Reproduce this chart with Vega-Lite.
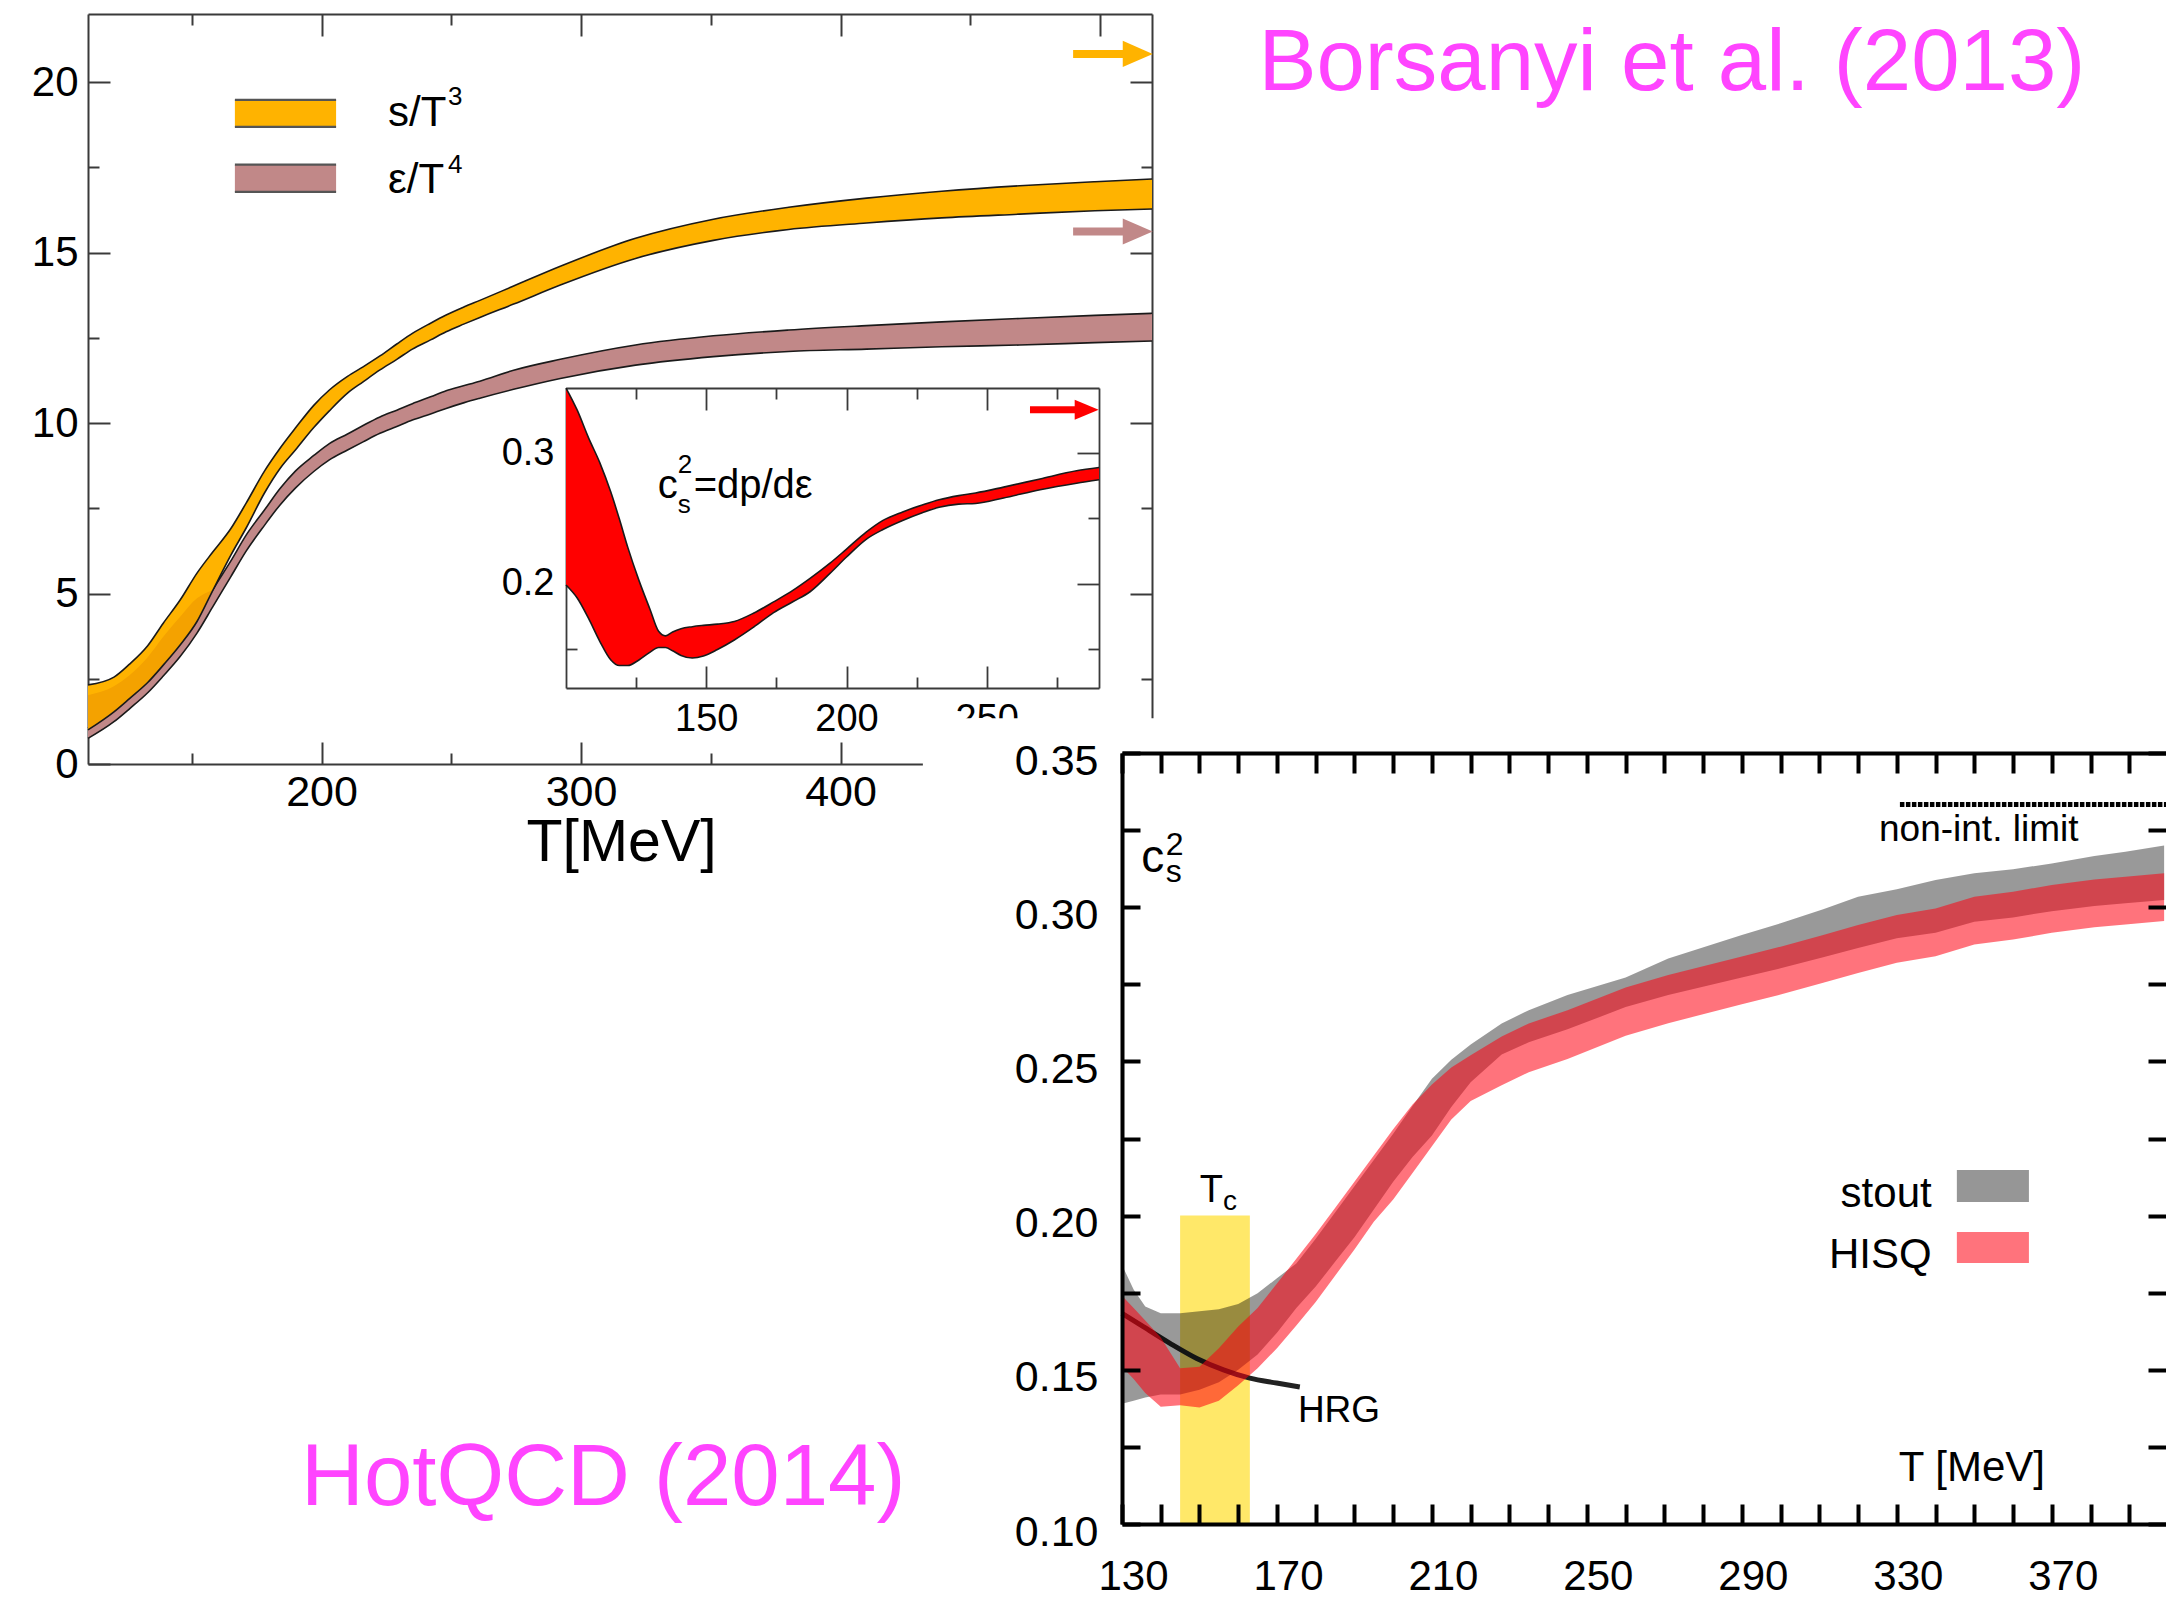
{
"$schema":"https://vega.github.io/schema/vega-lite/v6.json",
"width":2166,"height":1597,"autosize":{"type":"none"},"padding":0,"background":"#ffffff",
"config":{"view":{"stroke":null},"font":"Liberation Sans"},
"datasets":{
"thermo":[
{"T":110,"sTop":2.32,"sBot":1.0,"eTop":1.05,"eBot":0.75},
{"T":120,"sTop":2.55,"sBot":1.53,"eTop":1.6,"eBot":1.24},
{"T":126,"sTop":2.93,"sBot":1.92,"eTop":2.0,"eBot":1.62},
{"T":133,"sTop":3.47,"sBot":2.39,"eTop":2.45,"eBot":2.09},
{"T":139,"sTop":4.13,"sBot":2.9,"eTop":3.0,"eBot":2.58},
{"T":145.5,"sTop":4.81,"sBot":3.49,"eTop":3.6,"eBot":3.15},
{"T":152,"sTop":5.6,"sBot":4.18,"eTop":4.3,"eBot":3.84},
{"T":158,"sTop":6.21,"sBot":5.08,"eTop":5.1,"eBot":4.6},
{"T":165,"sTop":6.9,"sBot":6.12,"eTop":5.95,"eBot":5.49},
{"T":171,"sTop":7.66,"sBot":6.93,"eTop":6.72,"eBot":6.25},
{"T":178,"sTop":8.59,"sBot":7.95,"eTop":7.45,"eBot":7.0},
{"T":184,"sTop":9.26,"sBot":8.67,"eTop":8.08,"eBot":7.6},
{"T":190,"sTop":9.86,"sBot":9.22,"eTop":8.6,"eBot":8.1},
{"T":197,"sTop":10.52,"sBot":9.87,"eTop":9.05,"eBot":8.58},
{"T":203,"sTop":10.97,"sBot":10.36,"eTop":9.4,"eBot":8.92},
{"T":210,"sTop":11.37,"sBot":10.88,"eTop":9.68,"eBot":9.21},
{"T":216,"sTop":11.65,"sBot":11.21,"eTop":9.93,"eBot":9.45},
{"T":222.5,"sTop":11.97,"sBot":11.56,"eTop":10.18,"eBot":9.7},
{"T":229,"sTop":12.32,"sBot":11.87,"eTop":10.38,"eBot":9.9},
{"T":235,"sTop":12.63,"sBot":12.17,"eTop":10.57,"eBot":10.09},
{"T":242,"sTop":12.93,"sBot":12.44,"eTop":10.77,"eBot":10.27},
{"T":248,"sTop":13.17,"sBot":12.68,"eTop":10.95,"eBot":10.43},
{"T":255,"sTop":13.41,"sBot":12.91,"eTop":11.1,"eBot":10.6},
{"T":261,"sTop":13.6,"sBot":13.1,"eTop":11.23,"eBot":10.73},
{"T":274,"sTop":14.02,"sBot":13.49,"eTop":11.55,"eBot":10.99},
{"T":292,"sTop":14.6,"sBot":14.05,"eTop":11.87,"eBot":11.31},
{"T":321,"sTop":15.42,"sBot":14.83,"eTop":12.29,"eBot":11.7},
{"T":351,"sTop":15.98,"sBot":15.36,"eTop":12.56,"eBot":11.95},
{"T":380,"sTop":16.33,"sBot":15.68,"eTop":12.73,"eBot":12.1},
{"T":410,"sTop":16.6,"sBot":15.87,"eTop":12.86,"eBot":12.17},
{"T":439,"sTop":16.8,"sBot":16.02,"eTop":12.97,"eBot":12.24},
{"T":469,"sTop":16.96,"sBot":16.13,"eTop":13.07,"eBot":12.29},
{"T":498,"sTop":17.08,"sBot":16.23,"eTop":13.16,"eBot":12.36},
{"T":520,"sTop":17.16,"sBot":16.28,"eTop":13.22,"eBot":12.41}
],
"thermoDark":[
{"T":110,"dTop":2.02,"sBot":1.0},
{"T":120,"dTop":2.28,"sBot":1.53},
{"T":126,"dTop":2.6,"sBot":1.92},
{"T":133,"dTop":3.13,"sBot":2.39},
{"T":139,"dTop":3.73,"sBot":2.9},
{"T":145.5,"dTop":4.32,"sBot":3.49},
{"T":152,"dTop":4.86,"sBot":4.18},
{"T":158,"dTop":5.1,"sBot":5.08}
],
"cs2":[
{"T":100,"hi":0.35,"lo":0.199},
{"T":104,"hi":0.333,"lo":0.189},
{"T":108,"hi":0.312,"lo":0.1735},
{"T":112,"hi":0.293,"lo":0.156},
{"T":116,"hi":0.27,"lo":0.1415},
{"T":119,"hi":0.2497,"lo":0.1372},
{"T":122,"hi":0.228,"lo":0.1372},
{"T":126,"hi":0.2025,"lo":0.1415},
{"T":130,"hi":0.18,"lo":0.1475},
{"T":133,"hi":0.1635,"lo":0.151},
{"T":135.5,"hi":0.16,"lo":0.151},
{"T":138,"hi":0.163,"lo":0.1485},
{"T":141,"hi":0.1655,"lo":0.145},
{"T":145,"hi":0.167,"lo":0.143},
{"T":149,"hi":0.168,"lo":0.1445},
{"T":154,"hi":0.169,"lo":0.1495},
{"T":160,"hi":0.171,"lo":0.1568},
{"T":167,"hi":0.1775,"lo":0.1668},
{"T":174,"hi":0.186,"lo":0.1778},
{"T":181,"hi":0.195,"lo":0.1863},
{"T":187,"hi":0.204,"lo":0.1938},
{"T":194,"hi":0.2155,"lo":0.2077},
{"T":200,"hi":0.2265,"lo":0.2204},
{"T":207,"hi":0.2395,"lo":0.234},
{"T":213,"hi":0.2485,"lo":0.2415},
{"T":220,"hi":0.255,"lo":0.2484},
{"T":227,"hi":0.2603,"lo":0.2543},
{"T":233,"hi":0.2643,"lo":0.2586},
{"T":240,"hi":0.2675,"lo":0.261},
{"T":246,"hi":0.2695,"lo":0.2615},
{"T":256,"hi":0.274,"lo":0.2657},
{"T":269,"hi":0.2803,"lo":0.272},
{"T":282,"hi":0.2865,"lo":0.277},
{"T":290,"hi":0.289,"lo":0.2796}
],
"hotqcd":[
{"T":130,"gt":0.184,"gb":0.139,"rt":0.174,"rb":0.151},
{"T":133,"gt":0.176,"gb":0.14,"rt":0.17,"rb":0.147},
{"T":136,"gt":0.1705,"gb":0.141,"rt":0.166,"rb":0.1425},
{"T":140,"gt":0.1683,"gb":0.142,"rt":0.1605,"rb":0.138},
{"T":145,"gt":0.1683,"gb":0.142,"rt":0.1505,"rb":0.1385},
{"T":150,"gt":0.169,"gb":0.1435,"rt":0.151,"rb":0.1378},
{"T":155,"gt":0.1696,"gb":0.146,"rt":0.157,"rb":0.14},
{"T":160,"gt":0.1713,"gb":0.15,"rt":0.164,"rb":0.145},
{"T":165,"gt":0.1748,"gb":0.155,"rt":0.17,"rb":0.1505},
{"T":170,"gt":0.1797,"gb":0.162,"rt":0.178,"rb":0.157},
{"T":175,"gt":0.1845,"gb":0.17,"rt":0.186,"rb":0.1644},
{"T":180,"gt":0.1925,"gb":0.177,"rt":0.194,"rb":0.172},
{"T":185,"gt":0.201,"gb":0.185,"rt":0.2025,"rb":0.1805},
{"T":190,"gt":0.2095,"gb":0.193,"rt":0.211,"rb":0.189},
{"T":195,"gt":0.218,"gb":0.202,"rt":0.2195,"rb":0.198},
{"T":200,"gt":0.2265,"gb":0.211,"rt":0.228,"rb":0.2052},
{"T":205,"gt":0.2355,"gb":0.219,"rt":0.236,"rb":0.2138},
{"T":210,"gt":0.2444,"gb":0.226,"rt":0.2425,"rb":0.2225},
{"T":215,"gt":0.2505,"gb":0.2352,"rt":0.248,"rb":0.2312},
{"T":220,"gt":0.2555,"gb":0.2432,"rt":0.252,"rb":0.2372},
{"T":228,"gt":0.2623,"gb":0.2522,"rt":0.2581,"rb":0.2423},
{"T":235,"gt":0.2666,"gb":0.2562,"rt":0.2623,"rb":0.2465},
{"T":245,"gt":0.2715,"gb":0.2604,"rt":0.2666,"rb":0.2508},
{"T":260,"gt":0.2772,"gb":0.2676,"rt":0.274,"rb":0.2583},
{"T":271,"gt":0.2834,"gb":0.2715,"rt":0.278,"rb":0.2624},
{"T":290,"gt":0.291,"gb":0.2772,"rt":0.284,"rb":0.2685},
{"T":300,"gt":0.2948,"gb":0.2802,"rt":0.2872,"rb":0.2717},
{"T":311,"gt":0.2993,"gb":0.2838,"rt":0.291,"rb":0.2755},
{"T":320,"gt":0.3034,"gb":0.2868,"rt":0.2942,"rb":0.2787},
{"T":330,"gt":0.3058,"gb":0.2899,"rt":0.2975,"rb":0.282},
{"T":340,"gt":0.3088,"gb":0.2917,"rt":0.2996,"rb":0.2841},
{"T":350,"gt":0.311,"gb":0.2953,"rt":0.3034,"rb":0.2879},
{"T":360,"gt":0.3123,"gb":0.2967,"rt":0.305,"rb":0.2895},
{"T":370,"gt":0.3142,"gb":0.2987,"rt":0.3072,"rb":0.2917},
{"T":381,"gt":0.3166,"gb":0.3004,"rt":0.309,"rb":0.2935},
{"T":389,"gt":0.318,"gb":0.3013,"rt":0.3099,"rb":0.2944},
{"T":399,"gt":0.32,"gb":0.3023,"rt":0.311,"rb":0.2955}
],
"hrg":[
{"T":130,"v":0.1683},
{"T":135.5,"v":0.164},
{"T":142.4,"v":0.1586},
{"T":149.3,"v":0.1537},
{"T":156.2,"v":0.15},
{"T":163,"v":0.1473},
{"T":169.9,"v":0.1457},
{"T":175.9,"v":0.1444}
]
},
"resolve":{"scale":{"x":"independent","y":"independent"},"axis":{"x":"independent","y":"independent"}},
"layer":[
{"layer":[
{"data":{"name":"thermo"},"mark":{"type":"area","interpolate":"monotone","color":"#C18888"},
 "encoding":{"x":{"field":"T","type":"quantitative","scale":{"domain":[110,520],"range":[88,1152],"nice":false,"zero":false},"axis":null},
  "y":{"field":"eBot","type":"quantitative","scale":{"domain":[0,22],"range":[764,14],"nice":false,"zero":false},"axis":null},"y2":{"field":"eTop"}}},
{"data":{"name":"thermo"},"mark":{"type":"line","interpolate":"monotone","color":"#1a1a1a","strokeWidth":1.6},
 "encoding":{"x":{"field":"T","type":"quantitative","scale":{"domain":[110,520],"range":[88,1152],"nice":false,"zero":false},"axis":null},
  "y":{"field":"eTop","type":"quantitative","scale":{"domain":[0,22],"range":[764,14],"nice":false,"zero":false},"axis":null}}},
{"data":{"name":"thermo"},"mark":{"type":"line","interpolate":"monotone","color":"#1a1a1a","strokeWidth":1.6},
 "encoding":{"x":{"field":"T","type":"quantitative","scale":{"domain":[110,520],"range":[88,1152],"nice":false,"zero":false},"axis":null},
  "y":{"field":"eBot","type":"quantitative","scale":{"domain":[0,22],"range":[764,14],"nice":false,"zero":false},"axis":null}}},
{"data":{"name":"thermo"},"mark":{"type":"area","interpolate":"monotone","color":"#FFB300"},
 "encoding":{"x":{"field":"T","type":"quantitative","scale":{"domain":[110,520],"range":[88,1152],"nice":false,"zero":false},"axis":null},
  "y":{"field":"sBot","type":"quantitative","scale":{"domain":[0,22],"range":[764,14],"nice":false,"zero":false},"axis":null},"y2":{"field":"sTop"}}},
{"data":{"name":"thermoDark"},"mark":{"type":"area","interpolate":"monotone","color":"#F4A200"},
 "encoding":{"x":{"field":"T","type":"quantitative","scale":{"domain":[110,520],"range":[88,1152],"nice":false,"zero":false},"axis":null},
  "y":{"field":"sBot","type":"quantitative","scale":{"domain":[0,22],"range":[764,14],"nice":false,"zero":false},"axis":null},"y2":{"field":"dTop"}}},
{"data":{"name":"thermo"},"mark":{"type":"line","interpolate":"monotone","color":"#1a1a1a","strokeWidth":1.6},
 "encoding":{"x":{"field":"T","type":"quantitative","scale":{"domain":[110,520],"range":[88,1152],"nice":false,"zero":false},"axis":null},
  "y":{"field":"sTop","type":"quantitative","scale":{"domain":[0,22],"range":[764,14],"nice":false,"zero":false},"axis":null}}},
{"data":{"name":"thermo"},"mark":{"type":"line","interpolate":"monotone","color":"#1a1a1a","strokeWidth":1.6},
 "encoding":{"x":{"field":"T","type":"quantitative","scale":{"domain":[110,520],"range":[88,1152],"nice":false,"zero":false},"axis":null},
  "y":{"field":"sBot","type":"quantitative","scale":{"domain":[0,22],"range":[764,14],"nice":false,"zero":false},"axis":null}}},
{"data":{"values":[{}]},"mark":{"type":"rule","color":"#FFB300","strokeWidth":8},
 "encoding":{"x":{"datum":489.6,"type":"quantitative","scale":{"domain":[110,520],"range":[88,1152],"nice":false,"zero":false},"axis":null},"x2":{"datum":509.5},
  "y":{"datum":20.83,"type":"quantitative","scale":{"domain":[0,22],"range":[764,14],"nice":false,"zero":false},"axis":null}}},
{"data":{"values":[{}]},"mark":{"type":"rule","color":"#C18888","strokeWidth":8},
 "encoding":{"x":{"datum":489.6,"type":"quantitative","scale":{"domain":[110,520],"range":[88,1152],"nice":false,"zero":false},"axis":null},"x2":{"datum":509.5},
  "y":{"datum":15.62,"type":"quantitative","scale":{"domain":[0,22],"range":[764,14],"nice":false,"zero":false},"axis":null}}},
{"data":{"values":[{}]},"mark":{"type":"point","shape":"M-1,-0.87L1,0L-1,0.87Z","size":900,"filled":true,"color":"#FFB300","opacity":1,"strokeWidth":0},
 "encoding":{"x":{"datum":514.5,"type":"quantitative","scale":{"domain":[110,520],"range":[88,1152],"nice":false,"zero":false},"axis":null},
  "y":{"datum":20.83,"type":"quantitative","scale":{"domain":[0,22],"range":[764,14],"nice":false,"zero":false},"axis":null}}},
{"data":{"values":[{}]},"mark":{"type":"point","shape":"M-1,-0.87L1,0L-1,0.87Z","size":900,"filled":true,"color":"#C18888","opacity":1,"strokeWidth":0},
 "encoding":{"x":{"datum":514.5,"type":"quantitative","scale":{"domain":[110,520],"range":[88,1152],"nice":false,"zero":false},"axis":null},
  "y":{"datum":15.62,"type":"quantitative","scale":{"domain":[0,22],"range":[764,14],"nice":false,"zero":false},"axis":null}}},
{"data":{"values":[{}]},"mark":{"type":"rect","color":"#FFB300"},
 "encoding":{"x":{"datum":166.6,"type":"quantitative","scale":{"domain":[110,520],"range":[88,1152],"nice":false,"zero":false},"axis":null},"x2":{"datum":205.6},
  "y":{"datum":18.69,"type":"quantitative","scale":{"domain":[0,22],"range":[764,14],"nice":false,"zero":false},"axis":null},"y2":{"datum":19.48}}},
{"data":{"values":[{}]},"mark":{"type":"rect","color":"#C18888"},
 "encoding":{"x":{"datum":166.6,"type":"quantitative","scale":{"domain":[110,520],"range":[88,1152],"nice":false,"zero":false},"axis":null},"x2":{"datum":205.6},
  "y":{"datum":16.78,"type":"quantitative","scale":{"domain":[0,22],"range":[764,14],"nice":false,"zero":false},"axis":null},"y2":{"datum":17.58}}},
{"data":{"values":[{}]},"mark":{"type":"rule","color":"#555555","strokeWidth":2.2},
 "encoding":{"x":{"datum":166.6,"type":"quantitative","scale":{"domain":[110,520],"range":[88,1152],"nice":false,"zero":false},"axis":null},"x2":{"datum":205.6},
  "y":{"datum":19.48,"type":"quantitative","scale":{"domain":[0,22],"range":[764,14],"nice":false,"zero":false},"axis":null}}},
{"data":{"values":[{}]},"mark":{"type":"rule","color":"#555555","strokeWidth":2.2},
 "encoding":{"x":{"datum":166.6,"type":"quantitative","scale":{"domain":[110,520],"range":[88,1152],"nice":false,"zero":false},"axis":null},"x2":{"datum":205.6},
  "y":{"datum":18.69,"type":"quantitative","scale":{"domain":[0,22],"range":[764,14],"nice":false,"zero":false},"axis":null}}},
{"data":{"values":[{}]},"mark":{"type":"rule","color":"#555555","strokeWidth":2.2},
 "encoding":{"x":{"datum":166.6,"type":"quantitative","scale":{"domain":[110,520],"range":[88,1152],"nice":false,"zero":false},"axis":null},"x2":{"datum":205.6},
  "y":{"datum":17.58,"type":"quantitative","scale":{"domain":[0,22],"range":[764,14],"nice":false,"zero":false},"axis":null}}},
{"data":{"values":[{}]},"mark":{"type":"rule","color":"#555555","strokeWidth":2.2},
 "encoding":{"x":{"datum":166.6,"type":"quantitative","scale":{"domain":[110,520],"range":[88,1152],"nice":false,"zero":false},"axis":null},"x2":{"datum":205.6},
  "y":{"datum":16.78,"type":"quantitative","scale":{"domain":[0,22],"range":[764,14],"nice":false,"zero":false},"axis":null}}},
{"data":{"values":[{}]},"mark":{"type":"text","text":"s/T","fontSize":42,"align":"left","baseline":"alphabetic","color":"#000000"},
 "encoding":{"x":{"datum":225.6,"type":"quantitative","scale":{"domain":[110,520],"range":[88,1152],"nice":false,"zero":false},"axis":null},
  "y":{"datum":18.72,"type":"quantitative","scale":{"domain":[0,22],"range":[764,14],"nice":false,"zero":false},"axis":null}}},
{"data":{"values":[{}]},"mark":{"type":"text","text":"3","fontSize":26,"align":"left","baseline":"alphabetic","color":"#000000"},
 "encoding":{"x":{"datum":248.7,"type":"quantitative","scale":{"domain":[110,520],"range":[88,1152],"nice":false,"zero":false},"axis":null},
  "y":{"datum":19.33,"type":"quantitative","scale":{"domain":[0,22],"range":[764,14],"nice":false,"zero":false},"axis":null}}},
{"data":{"values":[{}]},"mark":{"type":"text","text":"ε/T","fontSize":42,"align":"left","baseline":"alphabetic","color":"#000000"},
 "encoding":{"x":{"datum":225.6,"type":"quantitative","scale":{"domain":[110,520],"range":[88,1152],"nice":false,"zero":false},"axis":null},
  "y":{"datum":16.76,"type":"quantitative","scale":{"domain":[0,22],"range":[764,14],"nice":false,"zero":false},"axis":null}}},
{"data":{"values":[{}]},"mark":{"type":"text","text":"4","fontSize":26,"align":"left","baseline":"alphabetic","color":"#000000"},
 "encoding":{"x":{"datum":248.7,"type":"quantitative","scale":{"domain":[110,520],"range":[88,1152],"nice":false,"zero":false},"axis":null},
  "y":{"datum":17.33,"type":"quantitative","scale":{"domain":[0,22],"range":[764,14],"nice":false,"zero":false},"axis":null}}},
{"data":{"values":[{}]},"mark":{"type":"text","text":"T[MeV]","fontSize":59,"align":"center","baseline":"alphabetic","color":"#000000"},
 "encoding":{"x":{"datum":315.6,"type":"quantitative","scale":{"domain":[110,520],"range":[88,1152],"nice":false,"zero":false},"axis":null},
  "y":{"datum":-2.85,"type":"quantitative","scale":{"domain":[0,22],"range":[764,14],"nice":false,"zero":false},"axis":null}}},
{"data":{"values":[{}]},"mark":{"type":"text","text":"Borsanyi et al. (2013)","fontSize":87,"align":"left","baseline":"alphabetic","color":"#FF44FF"},
 "encoding":{"x":{"datum":561,"type":"quantitative","scale":{"domain":[110,520],"range":[88,1152],"nice":false,"zero":false},"axis":null},
  "y":{"datum":19.77,"type":"quantitative","scale":{"domain":[0,22],"range":[764,14],"nice":false,"zero":false},"axis":null}}}
]},
{"data":{"values":[{}]},"mark":{"type":"point","opacity":0},
 "encoding":{
  "x":{"datum":300,"type":"quantitative","scale":{"domain":[110,520],"range":[88,1152],"nice":false,"zero":false},
   "axis":{"orient":"bottom","offset":-833,"values":[150,200,250,300,350,400,450,500],"format":"d","labelExpr":"datum.value % 100 == 0 ? datum.label : ''","tickSize":{"condition":{"test":"datum.value % 100 == 0","value":-22},"value":-11},"labelPadding":29,"labelFontSize":43,"labelFont":"Liberation Sans","labelColor":"#000000","domainColor":"#3a3a3a","domainWidth":2,"tickColor":"#3a3a3a","tickWidth":2,"grid":false,"title":null,"labelFlush":false,"labelOverlap":false,"zindex":0}},
  "y":{"datum":10,"type":"quantitative","scale":{"domain":[0,22],"range":[764,14],"nice":false,"zero":false},
   "axis":{"orient":"left","offset":-88,"values":[0,2.5,5,7.5,10,12.5,15,17.5,20],"format":"d","labelExpr":"datum.value % 5 == 0 ? datum.label : ''","tickSize":{"condition":{"test":"datum.value % 5 == 0","value":-22},"value":-11},"labelPadding":32,"labelFontSize":42,"labelFont":"Liberation Sans","labelColor":"#000000","domainColor":"#3a3a3a","domainWidth":2,"tickColor":"#3a3a3a","tickWidth":2,"grid":false,"title":null,"labelFlush":false,"labelOverlap":false,"zindex":0}}}},
{"data":{"values":[{}]},"mark":{"type":"point","opacity":0},
 "encoding":{
  "x":{"datum":300,"type":"quantitative","scale":{"domain":[110,520],"range":[88,1152],"nice":false,"zero":false},
   "axis":{"orient":"top","offset":-14,"values":[150,200,250,300,350,400,450,500],"labels":false,"tickSize":{"condition":{"test":"datum.value % 100 == 0","value":-22},"value":-11},"domainColor":"#3a3a3a","domainWidth":2,"tickColor":"#3a3a3a","tickWidth":2,"grid":false,"title":null,"zindex":0}},
  "y":{"datum":10,"type":"quantitative","scale":{"domain":[0,22],"range":[764,14],"nice":false,"zero":false},
   "axis":{"orient":"right","offset":-1014,"values":[0,2.5,5,7.5,10,12.5,15,17.5,20],"labels":false,"tickSize":{"condition":{"test":"datum.value % 5 == 0","value":-22},"value":-11},"domainColor":"#3a3a3a","domainWidth":2,"tickColor":"#3a3a3a","tickWidth":2,"grid":false,"title":null,"zindex":0}}}},
{"layer":[
{"data":{"name":"cs2"},"mark":{"type":"area","interpolate":"monotone","color":"#FF0000"},
 "encoding":{"x":{"field":"T","type":"quantitative","scale":{"domain":[100,290],"range":[566,1099],"nice":false,"zero":false},"axis":null},
  "y":{"field":"lo","type":"quantitative","scale":{"domain":[0.12,0.35],"range":[688,388],"nice":false,"zero":false},"axis":null},"y2":{"field":"hi"}}},
{"data":{"name":"cs2"},"mark":{"type":"line","interpolate":"monotone","color":"#1a1a1a","strokeWidth":1.6},
 "encoding":{"x":{"field":"T","type":"quantitative","scale":{"domain":[100,290],"range":[566,1099],"nice":false,"zero":false},"axis":null},
  "y":{"field":"hi","type":"quantitative","scale":{"domain":[0.12,0.35],"range":[688,388],"nice":false,"zero":false},"axis":null}}},
{"data":{"name":"cs2"},"mark":{"type":"line","interpolate":"monotone","color":"#1a1a1a","strokeWidth":1.6},
 "encoding":{"x":{"field":"T","type":"quantitative","scale":{"domain":[100,290],"range":[566,1099],"nice":false,"zero":false},"axis":null},
  "y":{"field":"lo","type":"quantitative","scale":{"domain":[0.12,0.35],"range":[688,388],"nice":false,"zero":false},"axis":null}}},
{"data":{"values":[{}]},"mark":{"type":"rule","color":"#FF0000","strokeWidth":7},
 "encoding":{"x":{"datum":265.4,"type":"quantitative","scale":{"domain":[100,290],"range":[566,1099],"nice":false,"zero":false},"axis":null},"x2":{"datum":281.8},
  "y":{"datum":0.3333,"type":"quantitative","scale":{"domain":[0.12,0.35],"range":[688,388],"nice":false,"zero":false},"axis":null}}},
{"data":{"values":[{}]},"mark":{"type":"point","shape":"M-1,-0.83L1,0L-1,0.83Z","size":576,"filled":true,"color":"#FF0000","opacity":1,"strokeWidth":0},
 "encoding":{"x":{"datum":285.6,"type":"quantitative","scale":{"domain":[100,290],"range":[566,1099],"nice":false,"zero":false},"axis":null},
  "y":{"datum":0.3333,"type":"quantitative","scale":{"domain":[0.12,0.35],"range":[688,388],"nice":false,"zero":false},"axis":null}}},
{"data":{"values":[{}]},"mark":{"type":"text","text":"c","fontSize":40,"align":"left","baseline":"alphabetic","color":"#000000"},
 "encoding":{"x":{"datum":132.7,"type":"quantitative","scale":{"domain":[100,290],"range":[566,1099],"nice":false,"zero":false},"axis":null},
  "y":{"datum":0.2654,"type":"quantitative","scale":{"domain":[0.12,0.35],"range":[688,388],"nice":false,"zero":false},"axis":null}}},
{"data":{"values":[{}]},"mark":{"type":"text","text":"2","fontSize":26,"align":"left","baseline":"alphabetic","color":"#000000"},
 "encoding":{"x":{"datum":139.8,"type":"quantitative","scale":{"domain":[100,290],"range":[566,1099],"nice":false,"zero":false},"axis":null},
  "y":{"datum":0.2848,"type":"quantitative","scale":{"domain":[0.12,0.35],"range":[688,388],"nice":false,"zero":false},"axis":null}}},
{"data":{"values":[{}]},"mark":{"type":"text","text":"s","fontSize":26,"align":"left","baseline":"alphabetic","color":"#000000"},
 "encoding":{"x":{"datum":139.8,"type":"quantitative","scale":{"domain":[100,290],"range":[566,1099],"nice":false,"zero":false},"axis":null},
  "y":{"datum":0.2544,"type":"quantitative","scale":{"domain":[0.12,0.35],"range":[688,388],"nice":false,"zero":false},"axis":null}}},
{"data":{"values":[{}]},"mark":{"type":"text","text":"=dp/dε","fontSize":40,"align":"left","baseline":"alphabetic","color":"#000000"},
 "encoding":{"x":{"datum":145.5,"type":"quantitative","scale":{"domain":[100,290],"range":[566,1099],"nice":false,"zero":false},"axis":null},
  "y":{"datum":0.2656,"type":"quantitative","scale":{"domain":[0.12,0.35],"range":[688,388],"nice":false,"zero":false},"axis":null}}}
]},
{"data":{"values":[{}]},"mark":{"type":"point","opacity":0},
 "encoding":{
  "x":{"datum":200,"type":"quantitative","scale":{"domain":[100,290],"range":[566,1099],"nice":false,"zero":false},
   "axis":{"orient":"bottom","offset":-909,"values":[125,150,175,200,225,250,275],"format":"d","labelExpr":"datum.value % 50 == 0 ? datum.label : ''","tickSize":{"condition":{"test":"datum.value % 50 == 0","value":-22},"value":-11},"labelPadding":34,"labelFontSize":38,"labelFont":"Liberation Sans","labelColor":"#000000","domainColor":"#3a3a3a","domainWidth":1.8,"tickColor":"#3a3a3a","tickWidth":1.8,"grid":false,"title":null,"labelFlush":false,"labelOverlap":false,"zindex":0}},
  "y":{"datum":0.2,"type":"quantitative","scale":{"domain":[0.12,0.35],"range":[688,388],"nice":false,"zero":false},
   "axis":{"orient":"left","offset":-566,"values":[0.15,0.2,0.25,0.3],"format":".1f","labelExpr":"round(datum.value*100) % 10 == 0 ? datum.label : ''","tickSize":{"condition":{"test":"round(datum.value*100) % 10 == 0","value":-22},"value":-11},"labelPadding":34,"labelFontSize":38,"labelFont":"Liberation Sans","labelColor":"#000000","domainColor":"#3a3a3a","domainWidth":1.8,"tickColor":"#3a3a3a","tickWidth":1.8,"grid":false,"title":null,"labelFlush":false,"labelOverlap":false,"zindex":0}}}},
{"data":{"values":[{}]},"mark":{"type":"point","opacity":0},
 "encoding":{
  "x":{"datum":200,"type":"quantitative","scale":{"domain":[100,290],"range":[566,1099],"nice":false,"zero":false},
   "axis":{"orient":"top","offset":-388,"values":[125,150,175,200,225,250,275],"labels":false,"tickSize":{"condition":{"test":"datum.value % 50 == 0","value":-22},"value":-11},"domainColor":"#3a3a3a","domainWidth":1.8,"tickColor":"#3a3a3a","tickWidth":1.8,"grid":false,"title":null,"zindex":0}},
  "y":{"datum":0.2,"type":"quantitative","scale":{"domain":[0.12,0.35],"range":[688,388],"nice":false,"zero":false},
   "axis":{"orient":"right","offset":-1067,"values":[0.15,0.2,0.25,0.3],"labels":false,"tickSize":{"condition":{"test":"round(datum.value*100) % 10 == 0","value":-22},"value":-11},"domainColor":"#3a3a3a","domainWidth":1.8,"tickColor":"#3a3a3a","tickWidth":1.8,"grid":false,"title":null,"zindex":0}}}},
{"layer":[
{"data":{"values":[{}]},"mark":{"type":"rect","color":"#ffffff"},
 "encoding":{"x":{"datum":78.6,"type":"quantitative","scale":{"domain":[130,400],"range":[1122,2168],"nice":false,"zero":false},"axis":null},"x2":{"datum":402},
  "y":{"datum":0.07,"type":"quantitative","scale":{"domain":[0.1,0.35],"range":[1524,753],"nice":false,"zero":false},"axis":null},"y2":{"datum":0.3613}}},
{"data":{"values":[{}]},"mark":{"type":"rect","color":"#FFE869"},
 "encoding":{"x":{"datum":145,"type":"quantitative","scale":{"domain":[130,400],"range":[1122,2168],"nice":false,"zero":false},"axis":null},"x2":{"datum":163},
  "y":{"datum":0.1,"type":"quantitative","scale":{"domain":[0.1,0.35],"range":[1524,753],"nice":false,"zero":false},"axis":null},"y2":{"datum":0.2}}},
{"data":{"name":"hrg"},"mark":{"type":"line","interpolate":"monotone","color":"#222222","strokeWidth":5},
 "encoding":{"x":{"field":"T","type":"quantitative","scale":{"domain":[130,400],"range":[1122,2168],"nice":false,"zero":false},"axis":null},
  "y":{"field":"v","type":"quantitative","scale":{"domain":[0.1,0.35],"range":[1524,753],"nice":false,"zero":false},"axis":null}}},
{"data":{"name":"hotqcd"},"mark":{"type":"area","interpolate":"linear","color":"#000000","opacity":0.4},
 "encoding":{"x":{"field":"T","type":"quantitative","scale":{"domain":[130,400],"range":[1122,2168],"nice":false,"zero":false},"axis":null},
  "y":{"field":"gb","type":"quantitative","scale":{"domain":[0.1,0.35],"range":[1524,753],"nice":false,"zero":false},"axis":null},"y2":{"field":"gt"}}},
{"data":{"name":"hotqcd"},"mark":{"type":"area","interpolate":"linear","color":"#FF0010","opacity":0.55},
 "encoding":{"x":{"field":"T","type":"quantitative","scale":{"domain":[130,400],"range":[1122,2168],"nice":false,"zero":false},"axis":null},
  "y":{"field":"rb","type":"quantitative","scale":{"domain":[0.1,0.35],"range":[1524,753],"nice":false,"zero":false},"axis":null},"y2":{"field":"rt"}}},
{"data":{"values":[{}]},"mark":{"type":"rule","color":"#000000","strokeWidth":5,"strokeDash":[4.5,1.5]},
 "encoding":{"x":{"datum":330.8,"type":"quantitative","scale":{"domain":[130,400],"range":[1122,2168],"nice":false,"zero":false},"axis":null},"x2":{"datum":400},
  "y":{"datum":0.33333,"type":"quantitative","scale":{"domain":[0.1,0.35],"range":[1524,753],"nice":false,"zero":false},"axis":null}}},
{"data":{"values":[{}]},"mark":{"type":"rect","color":"#000000","opacity":0.41},
 "encoding":{"x":{"datum":345.5,"type":"quantitative","scale":{"domain":[130,400],"range":[1122,2168],"nice":false,"zero":false},"axis":null},"x2":{"datum":364.1},
  "y":{"datum":0.2044,"type":"quantitative","scale":{"domain":[0.1,0.35],"range":[1524,753],"nice":false,"zero":false},"axis":null},"y2":{"datum":0.2148}}},
{"data":{"values":[{}]},"mark":{"type":"rect","color":"#FF0010","opacity":0.55},
 "encoding":{"x":{"datum":345.5,"type":"quantitative","scale":{"domain":[130,400],"range":[1122,2168],"nice":false,"zero":false},"axis":null},"x2":{"datum":364.1},
  "y":{"datum":0.1846,"type":"quantitative","scale":{"domain":[0.1,0.35],"range":[1524,753],"nice":false,"zero":false},"axis":null},"y2":{"datum":0.1947}}},
{"data":{"values":[{}]},"mark":{"type":"text","text":"c","fontSize":46,"align":"left","baseline":"alphabetic","color":"#000000"},
 "encoding":{"x":{"datum":135.0,"type":"quantitative","scale":{"domain":[130,400],"range":[1122,2168],"nice":false,"zero":false},"axis":null},
  "y":{"datum":0.3114,"type":"quantitative","scale":{"domain":[0.1,0.35],"range":[1524,753],"nice":false,"zero":false},"axis":null}}},
{"data":{"values":[{}]},"mark":{"type":"text","text":"2","fontSize":32,"align":"left","baseline":"alphabetic","color":"#000000"},
 "encoding":{"x":{"datum":141.3,"type":"quantitative","scale":{"domain":[130,400],"range":[1122,2168],"nice":false,"zero":false},"axis":null},
  "y":{"datum":0.3169,"type":"quantitative","scale":{"domain":[0.1,0.35],"range":[1524,753],"nice":false,"zero":false},"axis":null}}},
{"data":{"values":[{}]},"mark":{"type":"text","text":"s","fontSize":32,"align":"left","baseline":"alphabetic","color":"#000000"},
 "encoding":{"x":{"datum":141.3,"type":"quantitative","scale":{"domain":[130,400],"range":[1122,2168],"nice":false,"zero":false},"axis":null},
  "y":{"datum":0.3082,"type":"quantitative","scale":{"domain":[0.1,0.35],"range":[1524,753],"nice":false,"zero":false},"axis":null}}},
{"data":{"values":[{}]},"mark":{"type":"text","text":"T","fontSize":38,"align":"left","baseline":"alphabetic","color":"#000000"},
 "encoding":{"x":{"datum":150.1,"type":"quantitative","scale":{"domain":[130,400],"range":[1122,2168],"nice":false,"zero":false},"axis":null},
  "y":{"datum":0.2045,"type":"quantitative","scale":{"domain":[0.1,0.35],"range":[1524,753],"nice":false,"zero":false},"axis":null}}},
{"data":{"values":[{}]},"mark":{"type":"text","text":"c","fontSize":28,"align":"left","baseline":"alphabetic","color":"#000000"},
 "encoding":{"x":{"datum":156.1,"type":"quantitative","scale":{"domain":[130,400],"range":[1122,2168],"nice":false,"zero":false},"axis":null},
  "y":{"datum":0.2018,"type":"quantitative","scale":{"domain":[0.1,0.35],"range":[1524,753],"nice":false,"zero":false},"axis":null}}},
{"data":{"values":[{}]},"mark":{"type":"text","text":"HRG","fontSize":37,"align":"left","baseline":"alphabetic","color":"#000000"},
 "encoding":{"x":{"datum":175.4,"type":"quantitative","scale":{"domain":[130,400],"range":[1122,2168],"nice":false,"zero":false},"axis":null},
  "y":{"datum":0.133,"type":"quantitative","scale":{"domain":[0.1,0.35],"range":[1524,753],"nice":false,"zero":false},"axis":null}}},
{"data":{"values":[{}]},"mark":{"type":"text","text":"non-int. limit","fontSize":37,"align":"left","baseline":"alphabetic","color":"#000000"},
 "encoding":{"x":{"datum":325.4,"type":"quantitative","scale":{"domain":[130,400],"range":[1122,2168],"nice":false,"zero":false},"axis":null},
  "y":{"datum":0.3216,"type":"quantitative","scale":{"domain":[0.1,0.35],"range":[1524,753],"nice":false,"zero":false},"axis":null}}},
{"data":{"values":[{}]},"mark":{"type":"text","text":"T [MeV]","fontSize":42,"align":"left","baseline":"alphabetic","color":"#000000"},
 "encoding":{"x":{"datum":330.5,"type":"quantitative","scale":{"domain":[130,400],"range":[1122,2168],"nice":false,"zero":false},"axis":null},
  "y":{"datum":0.1138,"type":"quantitative","scale":{"domain":[0.1,0.35],"range":[1524,753],"nice":false,"zero":false},"axis":null}}},
{"data":{"values":[{}]},"mark":{"type":"text","text":"stout","fontSize":42,"align":"right","baseline":"alphabetic","color":"#000000"},
 "encoding":{"x":{"datum":339,"type":"quantitative","scale":{"domain":[130,400],"range":[1122,2168],"nice":false,"zero":false},"axis":null},
  "y":{"datum":0.2028,"type":"quantitative","scale":{"domain":[0.1,0.35],"range":[1524,753],"nice":false,"zero":false},"axis":null}}},
{"data":{"values":[{}]},"mark":{"type":"text","text":"HISQ","fontSize":42,"align":"right","baseline":"alphabetic","color":"#000000"},
 "encoding":{"x":{"datum":339,"type":"quantitative","scale":{"domain":[130,400],"range":[1122,2168],"nice":false,"zero":false},"axis":null},
  "y":{"datum":0.183,"type":"quantitative","scale":{"domain":[0.1,0.35],"range":[1524,753],"nice":false,"zero":false},"axis":null}}},
{"data":{"values":[{}]},"mark":{"type":"text","text":"HotQCD (2014)","fontSize":87,"align":"left","baseline":"alphabetic","color":"#FF44FF"},
 "encoding":{"x":{"datum":-81.9,"type":"quantitative","scale":{"domain":[130,400],"range":[1122,2168],"nice":false,"zero":false},"axis":null},
  "y":{"datum":0.1062,"type":"quantitative","scale":{"domain":[0.1,0.35],"range":[1524,753],"nice":false,"zero":false},"axis":null}}}
]},
{"data":{"values":[{}]},"mark":{"type":"point","opacity":0},
 "encoding":{
  "x":{"datum":200,"type":"quantitative","scale":{"domain":[130,400],"range":[1122,2168],"nice":false,"zero":false},
   "axis":{"orient":"bottom","offset":-73,"values":[130,140,150,160,170,180,190,200,210,220,230,240,250,260,270,280,290,300,310,320,330,340,350,360,370,380,390,400],"format":"d","labelExpr":"(datum.value - 130) % 40 == 0 ? datum.label : ''","tickSize":-20,"labelPadding":52,"labelOffset":11,"labelFontSize":42,"labelFont":"Liberation Sans","labelColor":"#000000","domainColor":"#000000","domainWidth":4,"tickColor":"#000000","tickWidth":4,"grid":false,"title":null,"labelFlush":false,"labelOverlap":false,"zindex":1}},
  "y":{"datum":0.2,"type":"quantitative","scale":{"domain":[0.1,0.35],"range":[1524,753],"nice":false,"zero":false},
   "axis":{"orient":"left","offset":-1122,"values":[0.1,0.125,0.15,0.175,0.2,0.225,0.25,0.275,0.3,0.325,0.35],"format":".2f","labelExpr":"round(datum.value*1000) % 50 == 0 ? datum.label : ''","tickSize":-18,"labelPadding":42,"labelOffset":8,"labelFontSize":43,"labelFont":"Liberation Sans","labelColor":"#000000","domainColor":"#000000","domainWidth":4,"tickColor":"#000000","tickWidth":4,"grid":false,"title":null,"labelFlush":false,"labelOverlap":false,"zindex":1}}}},
{"data":{"values":[{}]},"mark":{"type":"point","opacity":0},
 "encoding":{
  "x":{"datum":200,"type":"quantitative","scale":{"domain":[130,400],"range":[1122,2168],"nice":false,"zero":false},
   "axis":{"orient":"top","offset":-753,"values":[130,140,150,160,170,180,190,200,210,220,230,240,250,260,270,280,290,300,310,320,330,340,350,360,370,380,390,400],"labels":false,"tickSize":-20,"domainColor":"#000000","domainWidth":4,"tickColor":"#000000","tickWidth":4,"grid":false,"title":null,"zindex":1}},
  "y":{"datum":0.2,"type":"quantitative","scale":{"domain":[0.1,0.35],"range":[1524,753],"nice":false,"zero":false},
   "axis":{"orient":"right","offset":2,"values":[0.1,0.125,0.15,0.175,0.2,0.225,0.25,0.275,0.3,0.325,0.35],"labels":false,"tickSize":-20,"domainColor":"#000000","domainWidth":4,"tickColor":"#000000","tickWidth":4,"grid":false,"title":null,"zindex":1}}}}
]
}
